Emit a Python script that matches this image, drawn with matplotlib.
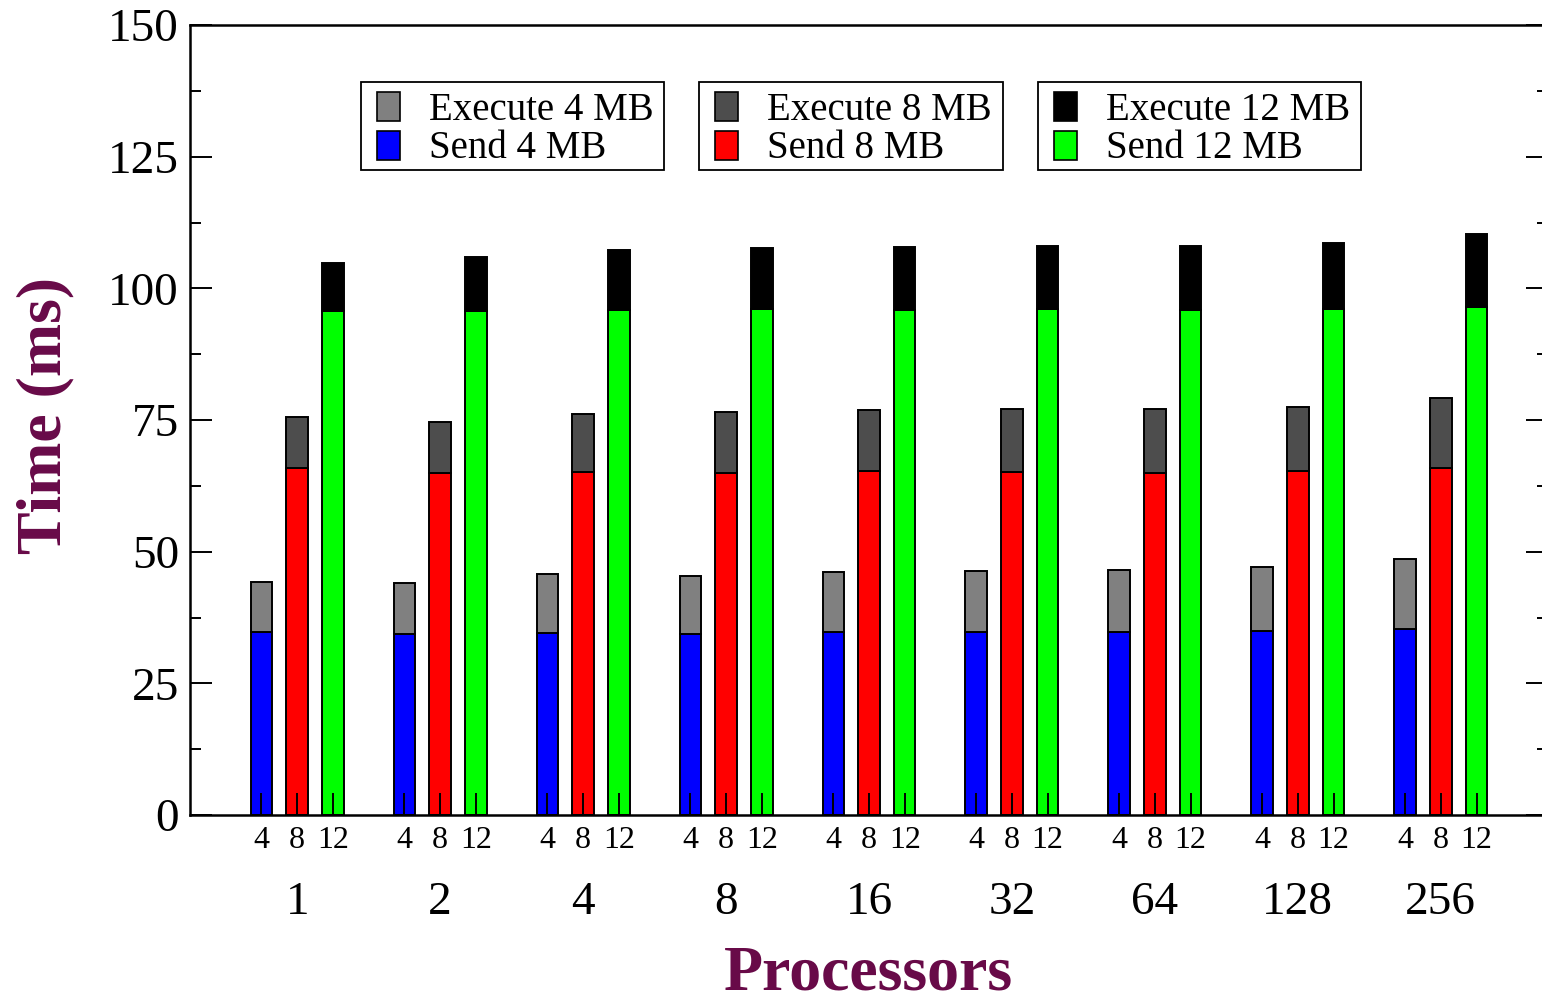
import matplotlib
matplotlib.use("Agg")
import matplotlib.pyplot as plt
import numpy as np
from matplotlib.ticker import MultipleLocator
from matplotlib.patches import Rectangle

plt.rcParams['font.family'] = ['Liberation Serif', 'DejaVu Serif']

processors = ["1", "2", "4", "8", "16", "32", "64", "128", "256"]
sizes = ["4", "8", "12"]

send_4 = [34.8, 34.4, 34.6, 34.4, 34.8, 34.7, 34.7, 35.0, 35.4]
exec_4 = [9.4, 9.6, 11.1, 10.9, 11.4, 11.7, 11.9, 12.1, 13.3]
send_8 = [65.8, 65.0, 65.2, 65.0, 65.3, 65.2, 65.0, 65.3, 65.8]
exec_8 = [9.8, 9.7, 10.9, 11.5, 11.6, 11.9, 12.1, 12.2, 13.4]
send_12 = [95.7, 95.7, 95.9, 96.1, 95.9, 96.1, 95.8, 96.1, 96.5]
exec_12 = [9.2, 10.3, 11.4, 11.6, 12.0, 12.0, 12.3, 12.6, 13.8]

col_s4, col_e4 = '#0000ff', '#808080'
col_s8, col_e8 = '#ff0000', '#4d4d4d'
col_s12, col_e12 = '#00ff00', '#000000'

W, H = 1542, 1000
fig = plt.figure(figsize=(W / 100, H / 100), dpi=100)
ax_left, ax_right, ax_bottom, ax_top = 190, 1548, 815, 25
ax = fig.add_axes([ax_left / W, 1 - ax_bottom / H, (ax_right - ax_left) / W, (ax_bottom - ax_top) / H])

g = np.arange(len(processors))
bw = 0.6
x4 = 4 * g
x8 = 4 * g + 1
x12 = 4 * g + 2
ek = dict(edgecolor='black', linewidth=1.4)

ax.bar(x4, send_4, bw, color=col_s4, **ek)
ax.bar(x4, exec_4, bw, bottom=send_4, color=col_e4, **ek)
ax.bar(x8, send_8, bw, color=col_s8, **ek)
ax.bar(x8, exec_8, bw, bottom=send_8, color=col_e8, **ek)
ax.bar(x12, send_12, bw, color=col_s12, **ek)
ax.bar(x12, exec_12, bw, bottom=send_12, color=col_e12, **ek)

ax.set_xlim(-2, 36)
ax.set_ylim(0, 150)

for s in ax.spines.values():
    s.set_linewidth(1.8)

ax.yaxis.set_major_locator(MultipleLocator(25))
ax.yaxis.set_minor_locator(MultipleLocator(12.5))
ax.tick_params(axis='y', which='major', direction='in', length=16, width=1.4,
               left=True, right=True, labelsize=34, pad=8)
ax.tick_params(axis='y', which='minor', direction='in', length=8, width=1.4,
               left=True, right=True)

xt = np.concatenate([x4, x8, x12])
xl = [sizes[0]] * len(g) + [sizes[1]] * len(g) + [sizes[2]] * len(g)
ax.set_xticks(xt)
ax.set_xticklabels(xl)
ax.tick_params(axis='x', which='major', direction='in', length=16, width=1.4,
               bottom=True, top=False, labelsize=23, pad=8)

trans = ax.get_xaxis_transform()
for gi, lab in zip(g, processors):
    ax.text(4 * gi + 1, -0.111, lab, transform=trans, ha='center', va='center', fontsize=34)

lab_color = '#680a48'
fig.text(868 / W, 1 - 974 / H, 'Processors', ha='center', va='center',
         fontsize=46, fontweight='bold', color=lab_color)
fig.text(45 / W, 1 - 415 / H, 'Time (ms)', ha='center', va='center', rotation=90,
         fontsize=46, fontweight='bold', color=lab_color)

def fx(px):
    return px / W

def fy(py):
    return 1 - py / H

def make_legend(entries, x0, y0, x1, y1):
    fig.patches.append(Rectangle((fx(x0), fy(y1)), fx(x1 - x0), (y1 - y0) / H,
                                 transform=fig.transFigure, facecolor='white',
                                 edgecolor='black', linewidth=1.3, zorder=5))
    rows = [(92, 121, 120), (131, 160, 158)]
    for (lab, col), (ht, hb, base) in zip(entries, rows):
        fig.patches.append(Rectangle((fx(x0 + 16), fy(hb)), fx(23), (hb - ht) / H,
                                     transform=fig.transFigure, facecolor=col,
                                     edgecolor='black', linewidth=1.2, zorder=6))
        fig.text(fx(x0 + 68), fy(base), lab, ha='left', va='baseline',
                 fontsize=28, zorder=7)

make_legend([('Execute 4 MB', col_e4), ('Send 4 MB', col_s4)], 361, 82, 664, 170)
make_legend([('Execute 8 MB', col_e8), ('Send 8 MB', col_s8)], 699, 82, 1003, 170)
make_legend([('Execute 12 MB', col_e12), ('Send 12 MB', col_s12)], 1038, 82, 1361, 170)

fig.savefig('out.png', dpi=100)
